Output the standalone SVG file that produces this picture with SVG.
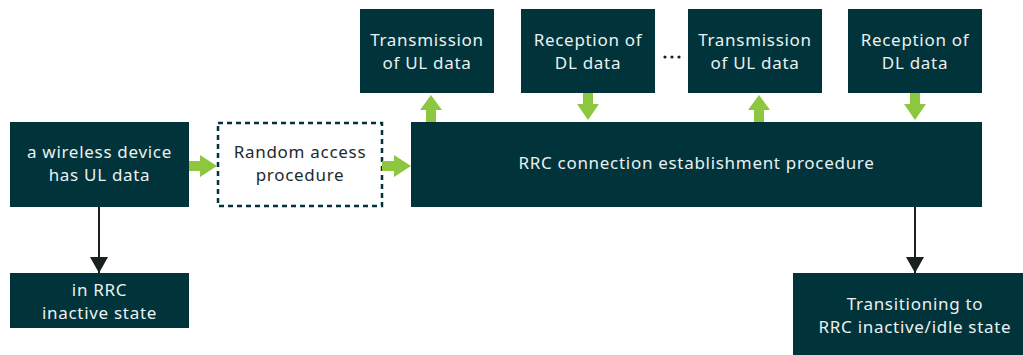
<svg xmlns="http://www.w3.org/2000/svg" width="1023" height="355" viewBox="0 0 1023 355">
<defs>
<style>
.box{fill:#01333A}
.dash{fill:#ffffff;stroke:#01333A;stroke-width:2.5;stroke-dasharray:5,4}
.t{font-family:"Noto Sans","DejaVu Sans",sans-serif;font-size:17px;letter-spacing:0.7px;fill:#E9F1F1;text-anchor:middle}
.td{font-family:"Noto Sans","DejaVu Sans",sans-serif;font-size:17px;letter-spacing:0.7px;fill:#1C2B2E;text-anchor:middle}
.g{fill:#8DC63F}
.blk{stroke:#1A1F20;stroke-width:2;fill:none}
</style>
<marker id="ah" markerWidth="16" markerHeight="18" refX="16" refY="9" orient="auto" markerUnits="userSpaceOnUse">
<path d="M0,0 L16,9 L0,18 Z" fill="#1A1F20"/>
</marker>
</defs>
<g id="n-wireless"><rect class="box" x="10" y="122" width="179" height="85"/><text class="t" x="99.5" y="158">a wireless device</text><text class="t" x="99.5" y="181">has UL data</text></g>
<g id="n-random"><rect class="dash" x="218" y="123" width="164" height="83"/><text class="td" x="300" y="158">Random access</text><text class="td" x="300" y="181">procedure</text></g>
<g id="n-rrc"><rect class="box" x="411" y="122" width="571" height="85"/><text class="t" x="696.5" y="169">RRC connection establishment procedure</text></g>
<g id="n-tx1"><rect class="box" x="360" y="9" width="134" height="84"/><text class="t" x="427" y="46">Transmission</text><text class="t" x="427" y="69">of UL data</text></g>
<g id="n-rx1"><rect class="box" x="521" y="9" width="134" height="84"/><text class="t" x="588" y="46">Reception of</text><text class="t" x="588" y="69">DL data</text></g>
<g id="n-tx2"><rect class="box" x="688" y="9" width="134" height="84"/><text class="t" x="755" y="46">Transmission</text><text class="t" x="755" y="69">of UL data</text></g>
<g id="n-rx2"><rect class="box" x="848" y="9" width="134" height="84"/><text class="t" x="915" y="46">Reception of</text><text class="t" x="915" y="69">DL data</text></g>
<g id="n-inactive"><rect class="box" x="10" y="273" width="179" height="55"/><text class="t" x="99.5" y="296">in RRC</text><text class="t" x="99.5" y="319">inactive state</text></g>
<g id="n-idle"><rect class="box" x="793" y="273" width="230" height="82"/><text class="t" x="915" y="310">Transitioning to</text><text class="t" x="915" y="333">RRC inactive/idle state</text></g>
<g id="ellipsis"><circle cx="665" cy="57" r="1.6" fill="#1A1F20"/><circle cx="672" cy="57" r="1.6" fill="#1A1F20"/><circle cx="679" cy="57" r="1.6" fill="#1A1F20"/></g>
<g id="connectors">
<path class="g" d="M189,161 L200,161 L200,155 L217,166 L200,177 L200,171 L189,171 Z"/>
<path class="g" d="M382,161 L394,161 L394,155 L411,166 L394,177 L394,171 L382,171 Z"/>
<path class="g" d="M426,122 L426,110 L420,110 L431,95 L442,110 L436,110 L436,122 Z"/>
<path class="g" d="M583,93 L583,104 L577,104 L588,120 L599,104 L593,104 L593,93 Z"/>
<path class="g" d="M754,122 L754,110 L748,110 L759,95 L770,110 L764,110 L764,122 Z"/>
<path class="g" d="M910,93 L910,104 L904,104 L915,120 L926,104 L920,104 L920,93 Z"/>
<line class="blk" x1="99" y1="207" x2="99" y2="273" marker-end="url(#ah)"/>
<line class="blk" x1="915" y1="207" x2="915" y2="273" marker-end="url(#ah)"/>
</g>
</svg>
